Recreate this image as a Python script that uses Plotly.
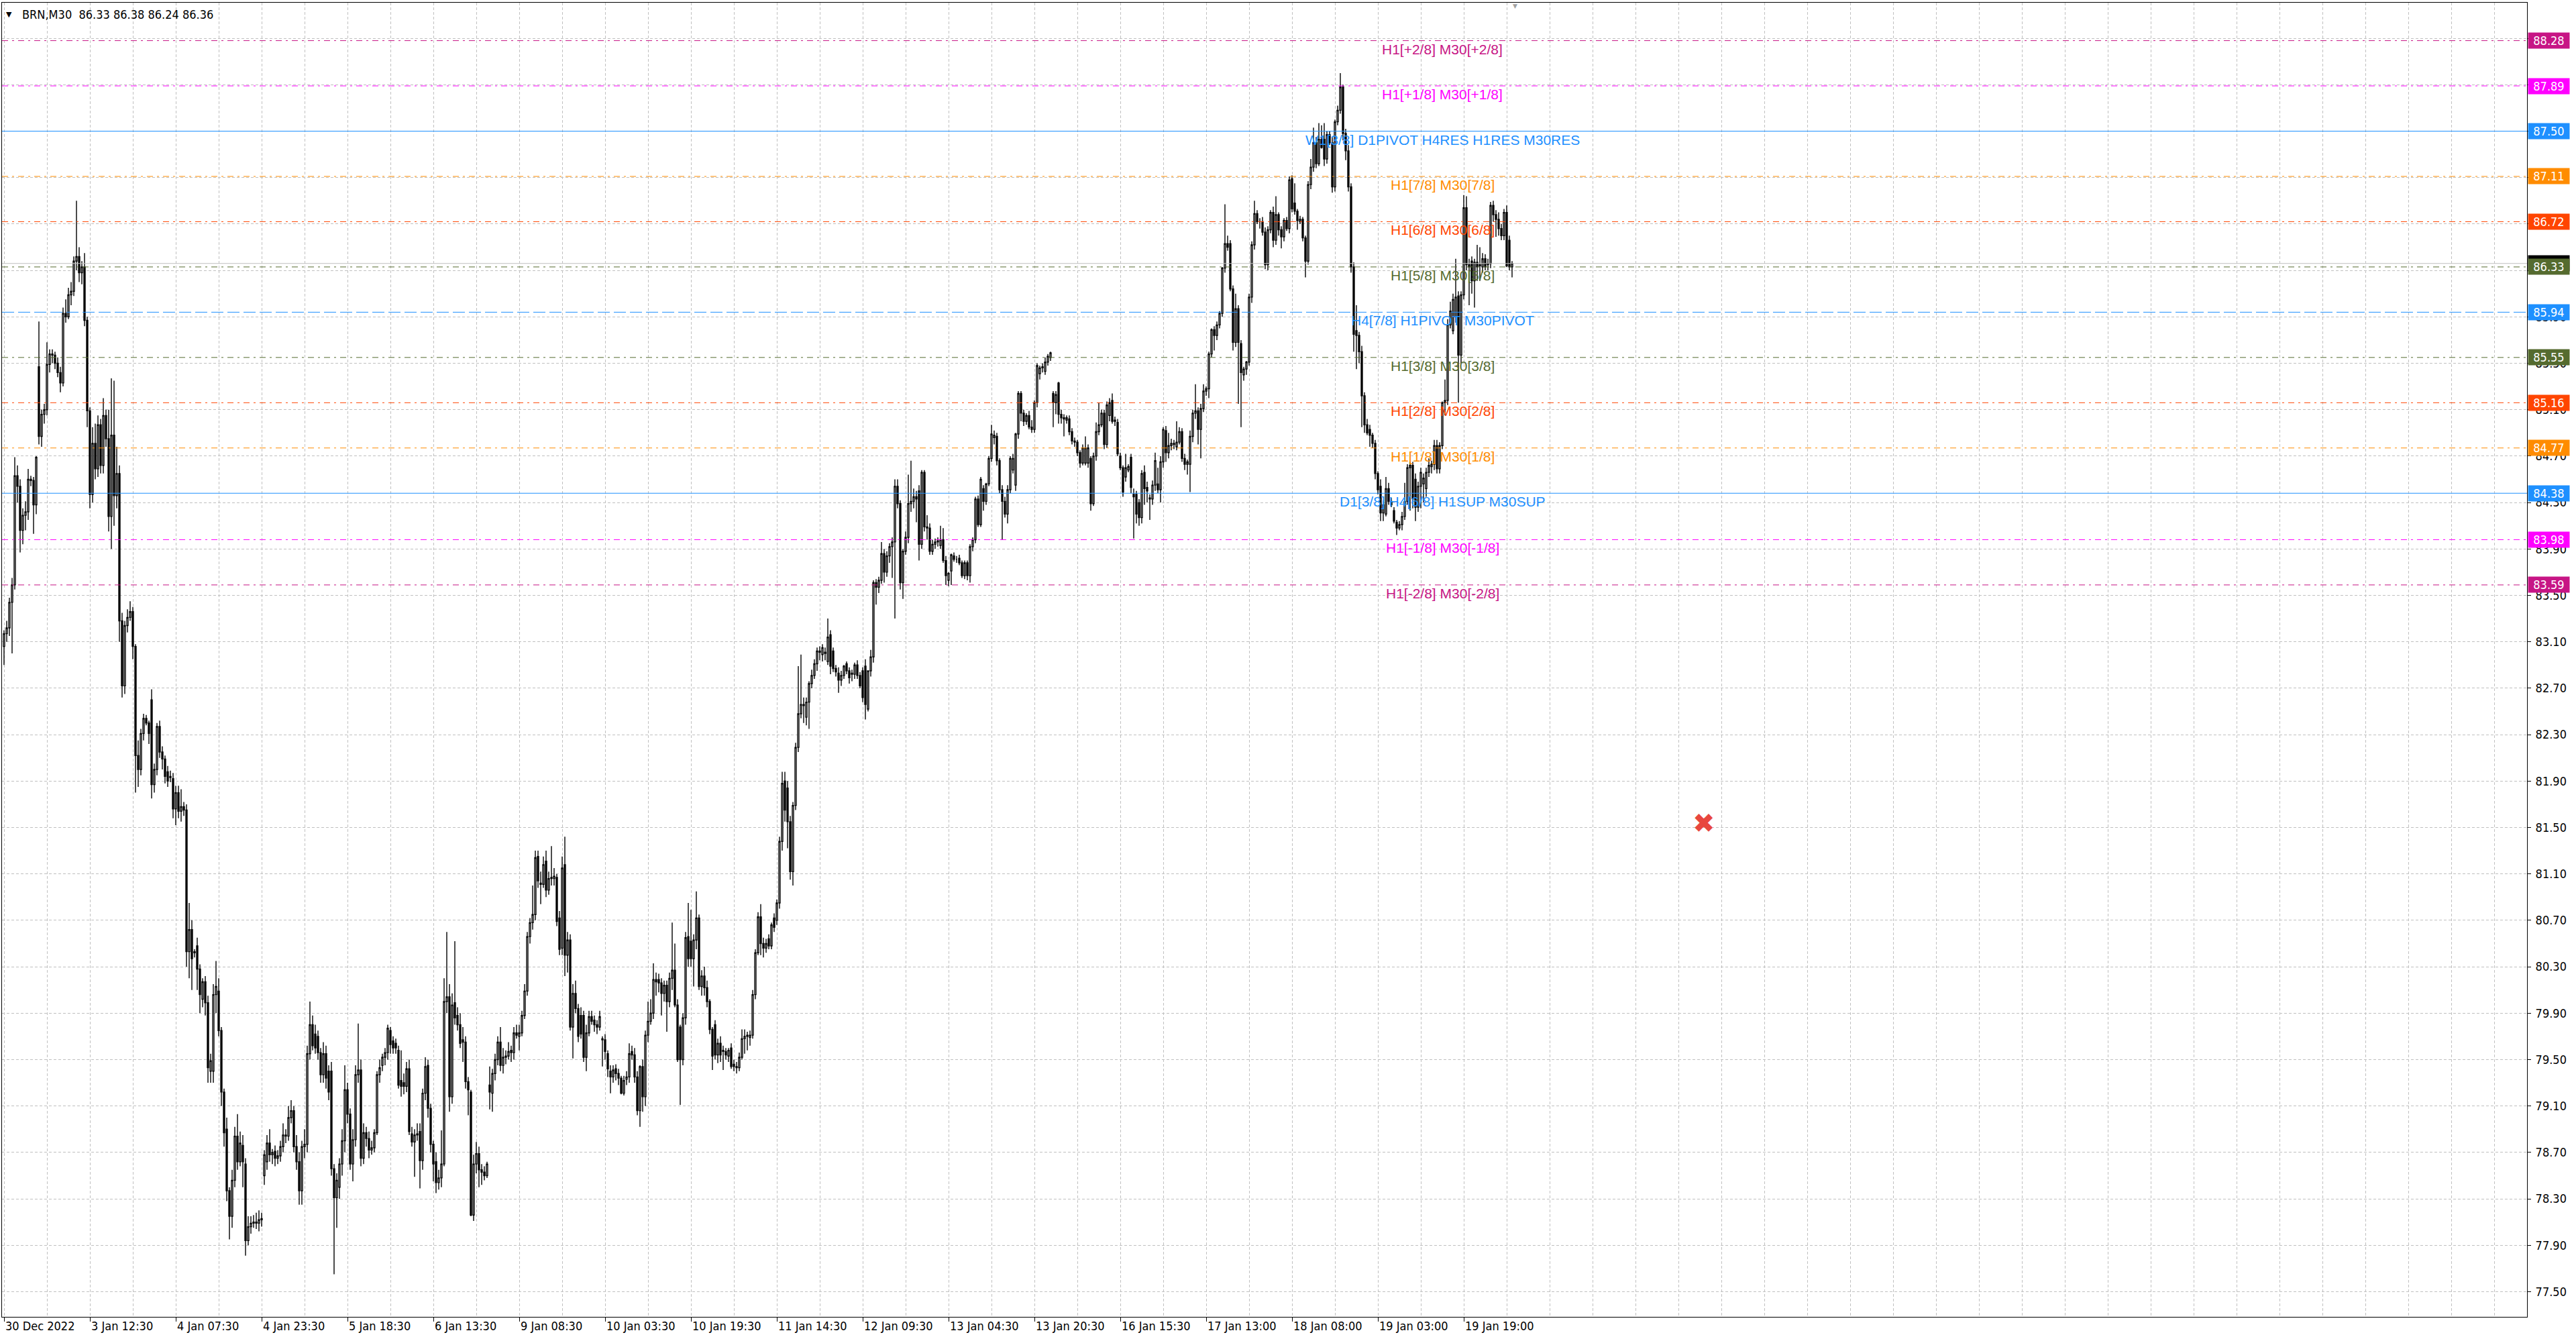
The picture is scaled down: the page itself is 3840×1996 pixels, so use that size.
import plotly.graph_objects as go

# ---------------- data ----------------
bar_open = [
83.06,83.17,83.22,83.44,83.59,84.53,84.44,84.06,84.19,84.22,84.50,84.49,84.28,85.47,84.87,85.06,85.10,85.49,85.58,85.57,
85.50,85.42,85.33,85.93,85.90,86.09,86.12,86.38,86.42,86.28,86.33,85.87,85.09,84.37,84.81,84.59,84.97,84.62,85.05,84.85,
84.18,84.88,84.36,84.55,83.28,82.72,83.24,83.31,83.36,83.06,82.12,82.00,82.31,82.44,82.40,82.60,81.87,82.00,82.37,82.15,
82.09,81.98,81.93,81.92,81.66,81.80,81.64,81.68,81.65,80.43,80.62,80.42,80.48,80.28,80.02,80.17,79.99,79.40,79.40,80.06,
80.09,79.75,79.22,78.90,78.37,78.15,78.46,78.84,78.62,78.76,78.60,77.94,78.06,78.09,78.10,78.09,78.12,78.50,78.62,78.78,
78.68,78.71,78.65,78.67,78.75,78.85,78.84,79.00,79.06,78.75,78.62,78.37,78.75,78.77,79.55,79.80,79.72,79.70,79.56,79.37,
79.55,79.40,79.40,78.56,78.31,78.40,78.60,78.80,79.24,79.03,78.60,78.81,79.37,79.41,78.65,78.87,78.82,78.72,78.74,78.87,
79.37,79.45,79.52,79.56,79.75,79.66,79.64,79.58,79.32,79.30,79.27,79.42,78.86,78.79,78.85,78.88,78.63,79.21,79.45,79.08,
78.77,78.62,78.44,78.48,78.60,80.00,80.04,79.18,79.99,79.88,79.80,79.67,79.65,79.31,79.22,78.16,78.60,78.69,78.55,78.53,
78.50,79.28,79.21,79.38,79.50,79.65,79.45,79.52,79.53,79.58,79.56,79.73,79.70,79.73,79.88,80.09,80.56,80.68,80.75,81.25,
81.02,81.01,81.21,80.96,81.06,81.06,81.07,80.72,80.46,81.18,80.40,80.53,79.78,80.07,79.94,79.88,79.88,79.52,79.73,79.87,
79.84,79.80,79.78,79.68,79.67,79.55,79.40,79.35,79.42,79.38,79.34,79.21,79.33,79.35,79.57,79.54,79.35,79.06,79.44,79.18,
79.71,79.83,79.90,80.19,80.19,80.16,80.07,80.14,80.00,80.20,80.27,79.97,79.78,79.50,79.86,80.56,80.52,80.37,80.53,80.72,
80.13,80.22,80.12,80.00,79.76,79.80,79.54,79.64,79.57,79.57,79.53,79.60,79.46,79.44,79.43,79.52,79.68,79.70,79.69,79.71,
80.06,80.42,80.73,80.50,80.46,80.54,80.48,80.72,80.70,80.85,81.38,81.90,81.84,81.55,81.12,81.69,82.19,82.48,82.56,82.45,
82.58,82.74,82.81,82.91,83.02,82.99,83.01,82.93,83.16,83.02,82.87,82.83,82.77,82.81,82.91,82.85,82.83,82.82,82.90,82.81,
82.85,82.89,82.52,82.85,82.97,83.61,83.57,83.63,83.86,83.70,83.84,83.92,83.96,84.44,84.29,83.61,83.88,84.00,84.29,84.31,
84.35,84.40,83.94,84.56,84.09,84.08,83.88,83.94,83.96,83.93,83.98,83.80,83.63,83.71,83.84,83.81,83.82,83.78,83.67,83.78,
83.67,83.92,83.98,84.33,84.11,84.42,84.31,84.46,84.68,84.86,84.87,84.66,84.41,84.31,84.20,84.41,84.58,84.45,84.89,85.24,
85.07,85.00,85.05,84.95,84.93,85.16,85.41,85.46,85.43,85.51,85.55,85.24,85.16,85.33,85.06,85.03,85.01,85.02,84.91,84.83,
84.82,84.73,84.64,84.64,84.64,84.68,84.29,84.70,84.91,84.97,85.07,84.80,85.05,85.18,85.01,84.99,84.70,84.60,84.52,84.58,
84.69,84.37,84.37,84.30,84.17,84.56,84.43,84.33,84.33,84.45,84.46,84.41,84.65,84.92,84.73,84.79,84.81,84.78,84.82,84.91,
84.68,84.63,84.63,84.87,85.07,85.09,84.93,85.11,85.26,85.28,85.58,85.79,85.74,85.83,85.93,86.32,86.53,86.53,86.14,85.68,
85.97,85.67,85.40,85.45,85.51,86.07,86.52,86.79,86.72,86.72,86.63,86.35,86.65,86.80,86.56,86.78,86.65,86.59,86.73,86.66,
87.09,86.88,86.81,86.72,86.74,86.58,86.38,87.04,87.19,87.40,87.22,87.43,87.43,87.26,87.47,87.40,87.02,87.58,87.68,87.88,
87.48,87.33,87.02,86.33,85.78,85.74,85.60,85.22,84.97,84.93,84.88,84.81,84.55,84.44,84.21,84.20,84.42,84.31,84.23,84.13,
84.08,84.11,84.18,84.31,84.60,84.62,84.50,84.26,84.44,84.46,84.42,84.56,84.61,84.63,84.79,84.59,84.79,85.16,85.18,85.83,
85.78,85.90,86.08,85.57,86.09,86.84,86.35,86.38,86.21,86.37,86.34,86.33,86.40,86.35,86.36,86.86,86.78,86.74,86.66,86.60,
86.80,86.56,86.33]

bar_high = [
83.20,83.28,83.48,83.65,84.69,84.62,84.50,84.25,84.31,84.59,84.53,84.52,84.70,85.86,85.10,85.15,85.68,85.62,85.62,85.60,
85.55,85.47,85.98,86.05,86.15,86.20,86.42,86.90,86.50,86.38,86.45,85.90,85.12,84.95,84.98,85.05,85.02,85.20,85.10,85.10,
85.37,85.35,84.78,84.62,83.35,83.28,83.38,83.45,83.40,83.08,82.25,82.35,82.48,82.47,82.42,82.69,82.05,82.40,82.42,82.20,
82.12,82.03,81.99,81.97,81.86,81.86,81.83,81.72,81.70,80.85,80.70,80.45,80.55,80.32,80.20,80.22,80.05,79.55,80.15,80.35,
80.20,79.78,79.25,79.00,78.40,78.55,78.92,79.03,78.88,78.85,78.65,78.15,78.15,78.16,78.18,78.20,78.18,78.72,78.85,78.90,
78.73,78.76,78.72,78.80,78.95,78.90,79.10,79.15,79.10,78.85,78.70,78.80,78.90,79.62,80.00,79.88,79.80,79.75,79.60,79.65,
79.62,79.45,79.48,78.60,78.52,78.65,78.90,79.45,79.30,79.08,78.90,79.45,79.81,79.50,78.95,78.92,78.88,78.80,78.90,79.40,
79.50,79.55,79.60,79.80,79.78,79.70,79.68,79.62,79.58,79.38,79.48,79.50,78.92,78.90,78.95,78.95,79.25,79.52,79.50,79.12,
78.80,78.70,78.55,78.89,80.20,80.60,80.15,80.07,80.52,79.95,79.90,79.78,79.70,79.35,79.24,78.68,78.79,78.75,78.60,78.58,
78.62,79.44,79.42,79.55,79.70,79.78,79.60,79.58,79.65,79.62,79.78,79.80,79.80,79.92,80.15,80.60,80.72,81.00,81.30,81.30,
81.12,81.25,81.30,81.12,81.34,81.15,81.10,80.78,81.25,81.42,80.60,80.58,80.15,80.18,79.98,79.95,79.92,79.80,79.92,79.92,
79.88,79.84,79.92,79.70,79.72,79.58,79.45,79.45,79.46,79.42,79.36,79.36,79.40,79.64,79.62,79.60,79.40,79.45,79.50,79.75,
80.00,80.02,80.33,80.25,80.24,80.20,80.18,80.18,80.25,80.68,80.50,80.02,79.80,79.90,80.60,80.85,80.79,80.58,80.95,80.75,
80.27,80.30,80.18,80.02,79.78,79.84,79.68,79.70,79.62,79.60,79.60,79.64,79.50,79.48,79.56,79.76,79.76,79.74,79.75,80.10,
80.45,80.77,80.84,80.55,80.54,80.58,80.68,80.76,80.88,81.42,81.98,81.98,81.90,81.60,81.72,82.23,82.89,82.99,82.62,82.62,
82.76,82.86,82.95,83.05,83.06,83.08,83.05,83.30,83.20,83.05,82.90,82.88,82.85,82.90,82.93,82.88,82.86,82.92,82.94,82.84,
82.88,82.95,82.85,83.03,83.63,83.64,83.66,83.96,83.90,83.88,83.95,84.00,84.50,84.50,84.32,83.90,84.05,84.54,84.66,84.42,
84.40,84.45,84.58,84.58,84.19,84.12,83.98,83.99,84.00,84.10,84.08,83.84,83.70,83.86,83.87,83.84,83.85,83.80,83.80,83.80,
83.94,84.00,84.35,84.36,84.52,84.45,84.47,84.70,84.97,84.92,84.90,84.68,84.45,84.35,84.45,84.70,84.72,84.90,85.26,85.26,
85.10,85.07,85.09,85.01,85.18,85.50,85.48,85.50,85.55,85.58,85.60,85.26,85.26,85.34,85.10,85.06,85.05,85.05,84.94,84.86,
84.84,84.75,84.80,84.87,84.80,84.70,84.73,84.99,85.16,85.10,85.10,85.17,85.20,85.24,85.04,85.02,84.73,84.62,84.72,84.63,
84.72,84.42,84.40,84.33,84.58,84.62,84.48,84.37,84.49,84.73,84.60,84.70,84.95,84.96,84.90,84.85,84.84,85.00,84.95,84.94,
84.72,84.67,84.92,85.10,85.32,85.12,85.15,85.32,85.30,85.60,85.80,85.82,85.86,85.95,86.33,86.87,86.60,86.56,86.17,86.10,
86.00,85.70,85.47,85.52,86.10,86.55,86.90,86.82,86.75,86.76,86.67,86.68,86.82,86.85,86.94,86.80,86.68,86.75,86.76,87.11,
87.12,87.05,86.83,86.77,86.76,86.60,87.07,87.26,87.53,87.45,87.57,87.55,87.57,87.50,87.50,87.45,87.60,87.72,88.00,87.90,
87.52,87.38,87.05,86.37,86.00,85.77,85.65,85.25,85.02,84.97,84.90,84.84,84.57,84.50,84.32,84.52,84.47,84.34,84.26,84.15,
84.14,84.22,84.47,84.63,84.65,84.65,84.55,84.48,84.60,84.55,84.60,84.68,84.66,84.84,84.84,84.82,85.17,85.36,85.88,86.03,
86.10,86.40,86.12,86.12,86.95,86.94,86.40,86.42,86.40,86.52,86.50,86.45,86.44,86.40,86.89,86.90,86.82,86.80,86.70,86.83,
86.86,86.60,86.38]

bar_low = [
82.90,83.10,83.15,83.00,83.55,84.30,83.87,83.94,84.06,84.15,84.44,84.03,84.20,84.80,84.78,84.98,85.05,85.42,85.50,85.45,
85.38,85.25,85.30,85.85,85.88,86.00,86.08,86.30,86.20,86.18,85.82,84.95,84.25,84.30,84.50,84.52,84.55,84.55,84.78,84.05,
83.90,84.10,84.25,83.10,82.62,82.65,83.18,83.28,82.95,81.80,81.85,81.95,82.25,82.38,82.22,81.75,81.80,81.95,82.10,82.00,
81.88,81.85,81.89,81.58,81.52,81.58,81.55,81.60,80.30,80.20,80.10,80.38,80.10,79.90,79.95,79.88,79.30,79.30,79.30,79.90,
79.70,79.10,78.75,78.28,77.95,78.05,78.40,78.55,78.58,78.40,77.81,77.90,78.00,78.05,78.04,78.02,78.06,78.42,78.55,78.62,
78.60,78.58,78.60,78.62,78.70,78.78,78.80,78.95,78.70,78.55,78.25,78.25,78.65,78.70,79.50,79.58,79.55,79.50,79.30,79.30,
79.25,79.15,78.50,77.65,78.05,78.30,78.50,78.70,78.95,78.55,78.45,78.75,79.30,78.58,78.60,78.75,78.65,78.68,78.70,78.85,
79.30,79.40,79.45,79.50,79.55,79.55,79.55,79.25,79.18,79.20,79.22,78.85,78.75,78.49,78.80,78.39,78.55,79.15,79.00,78.70,
78.45,78.35,78.38,78.40,78.58,79.90,79.05,79.12,79.80,79.75,79.60,79.48,79.25,79.02,78.15,78.11,78.52,78.40,78.42,78.46,
78.48,79.07,79.05,79.32,79.45,79.40,79.38,79.46,79.50,79.48,79.50,79.68,79.58,79.70,79.85,80.05,80.50,80.62,80.70,80.98,
80.84,80.98,80.90,80.92,81.00,81.00,80.65,80.40,80.40,80.22,80.25,79.75,79.51,79.90,79.65,79.68,79.48,79.40,79.70,79.80,
79.74,79.72,79.75,79.44,79.50,79.35,79.21,79.30,79.32,79.28,79.20,79.19,79.28,79.30,79.50,79.30,79.02,78.92,79.05,79.10,
79.65,79.80,79.85,80.05,80.08,79.88,80.00,79.74,79.95,80.10,79.95,79.48,79.11,79.45,79.80,80.30,80.30,80.13,80.45,80.10,
80.05,80.05,79.95,79.72,79.41,79.50,79.47,79.48,79.41,79.50,79.48,79.42,79.40,79.38,79.40,79.50,79.55,79.58,79.62,79.68,
80.02,80.40,80.40,80.38,80.42,80.45,80.45,80.60,80.66,80.80,81.30,81.55,81.32,81.05,81.00,81.65,82.15,82.44,82.40,82.38,
82.35,82.70,82.78,82.85,82.94,82.93,82.94,82.90,82.82,82.84,82.80,82.66,82.72,82.78,82.82,82.74,82.76,82.78,82.78,82.70,
82.58,82.43,82.50,82.80,82.92,83.42,83.52,83.60,83.61,83.66,83.78,83.65,83.30,84.25,83.55,83.47,83.85,83.95,84.22,84.25,
84.13,83.80,83.90,84.05,83.98,83.85,83.85,83.90,83.92,83.90,83.78,83.59,83.58,83.59,83.79,83.78,83.76,83.65,83.64,83.63,
83.61,83.88,83.95,84.09,84.09,84.23,84.28,84.44,84.65,84.80,84.62,84.38,83.98,84.17,84.12,84.38,84.55,84.40,84.85,85.00,
84.96,84.97,84.93,84.90,84.90,85.12,85.36,85.42,85.40,85.48,85.52,84.95,85.06,84.98,84.98,84.87,84.98,84.88,84.80,84.78,
84.70,84.60,84.62,84.62,84.60,84.23,84.27,84.66,84.88,84.95,84.76,84.77,85.00,84.98,84.96,84.70,84.58,84.35,84.48,84.56,
84.38,83.99,84.12,84.10,84.12,84.28,84.30,84.15,84.28,84.40,84.38,84.30,84.60,84.65,84.68,84.75,84.76,84.75,84.80,84.65,
84.58,84.54,84.39,84.82,85.02,84.80,84.68,85.08,85.22,85.20,85.55,85.61,85.70,85.80,85.90,86.28,86.47,86.12,85.61,85.64,
85.15,84.95,85.35,85.40,85.48,86.02,86.48,86.70,86.66,86.60,86.31,86.30,86.62,86.50,86.52,86.60,86.49,86.55,86.64,86.62,
86.80,86.78,86.65,86.70,86.55,86.24,86.35,87.00,87.15,87.18,87.20,87.35,87.20,87.22,87.38,86.97,86.98,87.55,87.65,87.42,
87.25,86.98,86.28,85.60,85.45,85.50,84.95,84.90,84.88,84.78,84.77,84.50,84.37,84.14,84.14,84.18,84.28,84.26,84.12,84.02,
84.06,84.06,84.15,84.28,84.23,84.25,84.14,84.22,84.25,84.30,84.35,84.52,84.55,84.58,84.55,84.55,84.76,85.05,85.14,85.80,
85.75,85.85,85.16,85.50,86.05,86.30,86.00,86.10,85.98,86.21,86.21,86.28,86.30,86.30,86.32,86.72,86.59,86.60,86.56,86.56,
86.33,86.30,86.24]

bar_close = [
83.17,83.22,83.44,83.59,84.53,84.44,84.06,84.19,84.22,84.50,84.49,84.28,84.69,84.87,85.06,85.10,85.49,85.58,85.57,85.50,
85.42,85.33,85.93,85.90,86.09,86.12,86.38,86.42,86.28,86.33,85.87,85.09,84.37,84.81,84.59,84.97,84.62,85.05,84.85,84.18,
84.88,84.36,84.55,83.28,82.72,83.24,83.31,83.36,83.06,82.12,82.00,82.31,82.44,82.40,82.31,81.87,82.00,82.37,82.15,82.09,
81.94,81.90,81.94,81.66,81.80,81.64,81.68,81.65,80.43,80.62,80.37,80.43,80.28,80.06,80.17,79.99,79.43,79.49,80.06,80.13,
79.75,79.22,78.87,78.37,78.15,78.46,78.84,78.62,78.78,78.62,77.94,78.06,78.09,78.10,78.09,78.12,78.13,78.68,78.78,78.68,
78.70,78.65,78.67,78.75,78.85,78.84,79.00,79.06,78.75,78.62,78.37,78.75,78.77,79.55,79.80,79.62,79.60,79.56,79.37,79.55,
79.34,79.22,78.56,78.31,78.46,78.60,78.80,79.24,79.03,78.60,78.81,79.37,79.41,78.65,78.87,78.82,78.72,78.74,78.87,79.37,
79.43,79.52,79.56,79.77,79.63,79.60,79.60,79.28,79.27,79.27,79.42,78.88,78.79,78.85,78.86,78.63,79.21,79.44,79.08,78.77,
78.60,78.44,78.48,78.60,80.00,80.04,79.18,79.97,79.86,79.80,79.64,79.65,79.31,79.24,78.16,78.60,78.69,78.55,78.53,78.50,
78.60,79.22,79.38,79.50,79.65,79.45,79.52,79.53,79.57,79.56,79.73,79.71,79.73,79.88,80.09,80.56,80.68,80.75,81.24,81.04,
81.01,81.18,80.96,81.06,81.07,81.08,80.69,80.45,81.15,80.40,80.53,79.78,80.07,79.94,79.70,79.72,79.52,79.73,79.87,79.83,
79.80,79.78,79.87,79.67,79.57,79.42,79.35,79.41,79.38,79.34,79.21,79.32,79.35,79.55,79.54,79.35,79.06,79.44,79.18,79.71,
79.83,79.90,80.19,80.17,80.16,80.07,80.14,80.00,80.20,80.27,79.97,79.50,79.50,79.86,80.55,80.37,80.37,80.53,80.72,80.13,
80.22,80.12,80.00,79.76,79.53,79.54,79.64,79.54,79.58,79.54,79.58,79.44,79.44,79.43,79.52,79.68,79.70,79.71,79.71,80.06,
80.42,80.73,80.50,80.46,80.50,80.48,80.66,80.64,80.85,81.38,81.88,81.65,81.55,81.12,81.69,82.19,82.48,82.56,82.55,82.58,
82.74,82.81,82.91,83.02,83.01,83.05,83.00,83.14,82.89,82.87,82.84,82.77,82.81,82.89,82.85,82.79,82.82,82.90,82.81,82.72,
82.62,82.56,82.85,82.97,83.61,83.57,83.63,83.86,83.70,83.84,83.92,83.96,84.44,84.29,83.61,83.88,84.00,84.29,84.31,84.35,
84.33,83.94,84.56,84.09,84.08,83.88,83.94,83.96,83.97,83.98,83.80,83.67,83.69,83.85,83.81,83.81,83.78,83.67,83.78,83.67,
83.92,83.98,84.33,84.11,84.50,84.31,84.46,84.68,84.89,84.88,84.66,84.41,84.31,84.20,84.41,84.68,84.68,84.89,85.24,85.07,
85.00,85.05,84.95,84.93,85.16,85.48,85.46,85.47,85.51,85.56,85.59,85.16,85.23,85.06,85.03,85.02,85.03,84.91,84.83,84.82,
84.73,84.64,84.77,84.77,84.77,84.29,84.70,84.91,84.97,85.07,84.80,85.14,85.16,85.00,85.00,84.72,84.60,84.39,84.60,84.61,
84.43,84.35,84.20,84.17,84.55,84.42,84.40,84.34,84.45,84.66,84.41,84.65,84.93,84.73,84.79,84.81,84.80,84.82,84.91,84.68,
84.63,84.65,84.87,85.07,85.09,84.93,85.11,85.26,85.28,85.58,85.79,85.74,85.83,85.93,86.32,86.53,86.50,86.14,85.68,85.97,
85.68,85.42,85.45,85.51,86.07,86.52,86.79,86.72,86.72,86.63,86.35,86.65,86.80,86.56,86.78,86.65,86.59,86.73,86.66,87.08,
86.83,86.81,86.73,86.74,86.58,86.38,87.04,87.19,87.40,87.22,87.43,87.36,87.26,87.47,87.40,87.02,87.58,87.68,87.88,87.48,
87.33,87.02,86.33,85.75,85.74,85.60,85.22,84.97,84.90,84.88,84.81,84.55,84.41,84.21,84.28,84.42,84.31,84.28,84.14,84.08,
84.11,84.18,84.31,84.60,84.62,84.33,84.26,84.44,84.56,84.51,84.56,84.62,84.63,84.79,84.59,84.79,85.16,85.18,85.83,85.95,
86.05,86.07,85.57,86.09,86.84,86.35,86.33,86.21,86.37,86.33,86.35,86.40,86.33,86.36,86.86,86.78,86.74,86.66,86.60,86.80,
86.34,86.33,86.36]

time_labels = ["30 Dec 2022", "3 Jan 12:30", "4 Jan 07:30", "4 Jan 23:30", "5 Jan 18:30",
               "6 Jan 13:30", "9 Jan 08:30", "10 Jan 03:30", "10 Jan 19:30", "11 Jan 14:30",
               "12 Jan 09:30", "13 Jan 04:30", "13 Jan 20:30", "16 Jan 15:30", "17 Jan 13:00",
               "18 Jan 08:00", "19 Jan 03:00", "19 Jan 19:00"]
time_label_bars = [0, 32, 64, 96, 128, 160, 192, 224, 256, 288, 320, 352, 384, 416, 448, 480, 512, 544]

level_prices = [88.28, 87.89, 87.50, 87.11, 86.72, 86.33, 85.94, 85.55, 85.16, 84.77, 84.38, 83.98, 83.59]
level_names = ["H1[+2/8] M30[+2/8]", "H1[+1/8] M30[+1/8]", "W1[3/8] D1PIVOT H4RES H1RES M30RES",
               "H1[7/8] M30[7/8]", "H1[6/8] M30[6/8]", "H1[5/8] M30[5/8]", "H4[7/8] H1PIVOT M30PIVOT",
               "H1[3/8] M30[3/8]", "H1[2/8] M30[2/8]", "H1[1/8] M30[1/8]", "D1[3/8] H4[6/8] H1SUP M30SUP",
               "H1[-1/8] M30[-1/8]", "H1[-2/8] M30[-2/8]"]
level_colors = ["#C71585", "#FF00FF", "#1E90FF", "#FF8C00", "#FF4500", "#556B2F", "#1E90FF",
                "#556B2F", "#FF4500", "#FF8C00", "#1E90FF", "#FF00FF", "#C71585"]
level_styles = ["dashdot", "dashdot", "solid", "dashdot", "dashdot", "dashdot", "dash",
                "dashdot", "dashdot", "dashdot", "solid", "dashdot", "dashdot"]

bid_price = 86.36
title_text = "BRN,M30\u00a0\u00a086.33 86.38 86.24 86.36"
label_bar = 536          # bar around which the level texts are centred
marker_bar, marker_price = 633.5, 81.54   # red cross object

# ---------------- styling ----------------
AX_FONT = "DejaVu Sans Condensed, Liberation Sans Narrow, DejaVu Sans, sans-serif"
LVL_FONT = "Liberation Sans, Arial, sans-serif"
GRID = "#C0C0C0"
DASHES = {"dashdot": "9px,6px,3px,6px", "dash": "18px,6px", "solid": "solid"}

bar_index = list(range(len(bar_close)))
hi = [max(h, o, c) for h, o, c in zip(bar_high, bar_open, bar_close)]
lo = [min(l, o, c) for l, o, c in zip(bar_low, bar_open, bar_close)]

fig = go.Figure()
fig.add_trace(go.Candlestick(
    x=bar_index, open=bar_open, high=hi, low=lo, close=bar_close,
    increasing=dict(line=dict(color="black", width=1.4), fillcolor="white"),
    decreasing=dict(line=dict(color="black", width=1.4), fillcolor="black"),
    whiskerwidth=0, hoverinfo="skip", showlegend=False))

shapes = []
shapes.append(dict(type="line", xref="paper", x0=0, x1=1, yref="y", y0=bid_price, y1=bid_price,
                   line=dict(color="#C0C0C0", width=1), layer="above"))
for p, c, s in zip(level_prices, level_colors, level_styles):
    shapes.append(dict(type="line", xref="paper", x0=0, x1=1, yref="y", y0=p, y1=p,
                       line=dict(color=c, width=1, dash=DASHES[s]), layer="above"))

ann = []
# level texts
for p, t, c in zip(level_prices, level_names, level_colors):
    ann.append(dict(x=label_bar, y=p, xref="x", yref="y", text=t, showarrow=False,
                    xanchor="center", yanchor="top", yshift=1,
                    font=dict(family=LVL_FONT, size=21, color=c)))
# current price box (under the level boxes)
ann.append(dict(x=1, y=bid_price, xref="paper", yref="y", text=f"{bid_price:.2f}", showarrow=False,
                xanchor="left", yanchor="middle", xshift=1, bgcolor="black", width=59, height=21,
                borderpad=1, font=dict(family=AX_FONT, size=18, color="white")))
for p, c in zip(level_prices, level_colors):
    ann.append(dict(x=1, y=p, xref="paper", yref="y", text=f"{p:.2f}", showarrow=False,
                    xanchor="left", yanchor="middle", xshift=1, bgcolor=c, width=59, height=21,
                    borderpad=1, font=dict(family=AX_FONT, size=18, color="white")))
# time labels (left aligned at their ticks)
for b, t in zip(time_label_bars, time_labels):
    ann.append(dict(x=b, y=0, xref="x", yref="paper", text=t, showarrow=False,
                    xanchor="left", yanchor="top", yshift=-1,
                    font=dict(family=AX_FONT, size=18, color="black")))
# header
ann.append(dict(x=0, y=1, xref="paper", yref="paper", text="\u25BC", showarrow=False,
                xanchor="left", yanchor="top", xshift=4, yshift=-9,
                font=dict(family="DejaVu Sans", size=11, color="black")))
ann.append(dict(x=0, y=1, xref="paper", yref="paper", text=title_text, showarrow=False,
                xanchor="left", yanchor="top", xshift=28, yshift=-5,
                font=dict(family=AX_FONT, size=18, color="black")))
# chart-shift marker and red cross object
ann.append(dict(x=len(bar_close), y=1, xref="x", yref="paper", text="\u25BC", showarrow=False,
                xanchor="center", yanchor="top", yshift=2,
                font=dict(family="DejaVu Sans", size=9, color="#A0A0A0")))
ann.append(dict(x=marker_bar, y=marker_price, xref="x", yref="y", text="\u2716", showarrow=False,
                xanchor="center", yanchor="middle",
                font=dict(family="DejaVu Sans", size=40, color="#E8473F")))

fig.update_layout(
    width=3840, height=1996,
    margin=dict(l=3, r=73, t=4, b=33, pad=0),
    paper_bgcolor="white", plot_bgcolor="white",
    showlegend=False, hovermode=False,
    shapes=shapes, annotations=ann,
    xaxis=dict(range=[-0.75, 940.25], tickmode="array", tickvals=time_label_bars,
               showticklabels=False, ticks="outside", ticklen=6, tickcolor="black", tickwidth=1,
               showgrid=True, gridcolor=GRID, gridwidth=1, griddash="4px,3px",
               minor=dict(tickmode="linear", tick0=0, dtick=16, showgrid=True,
                          gridcolor=GRID, gridwidth=1, griddash="4px,3px", ticks=""),
               showline=True, linecolor="black", linewidth=1, mirror=True,
               zeroline=False, rangeslider=dict(visible=False), fixedrange=True),
    yaxis=dict(side="right", range=[77.283, 88.607], tickmode="linear", tick0=77.5, dtick=0.4,
               tickformat=".2f", ticks="outside", ticklen=5, tickcolor="black", tickwidth=1,
               tickfont=dict(family=AX_FONT, size=18, color="black"), ticklabelstandoff=3,
               showgrid=True, gridcolor=GRID, gridwidth=1, griddash="4px,3px",
               showline=True, linecolor="black", linewidth=1, mirror=True,
               zeroline=False, fixedrange=True),
)

fig.write_html("out.html", include_plotlyjs=True, full_html=True,
               config={"displayModeBar": False, "staticPlot": True},
               post_script="document.body.style.margin='0px';document.body.style.overflow='hidden';")
